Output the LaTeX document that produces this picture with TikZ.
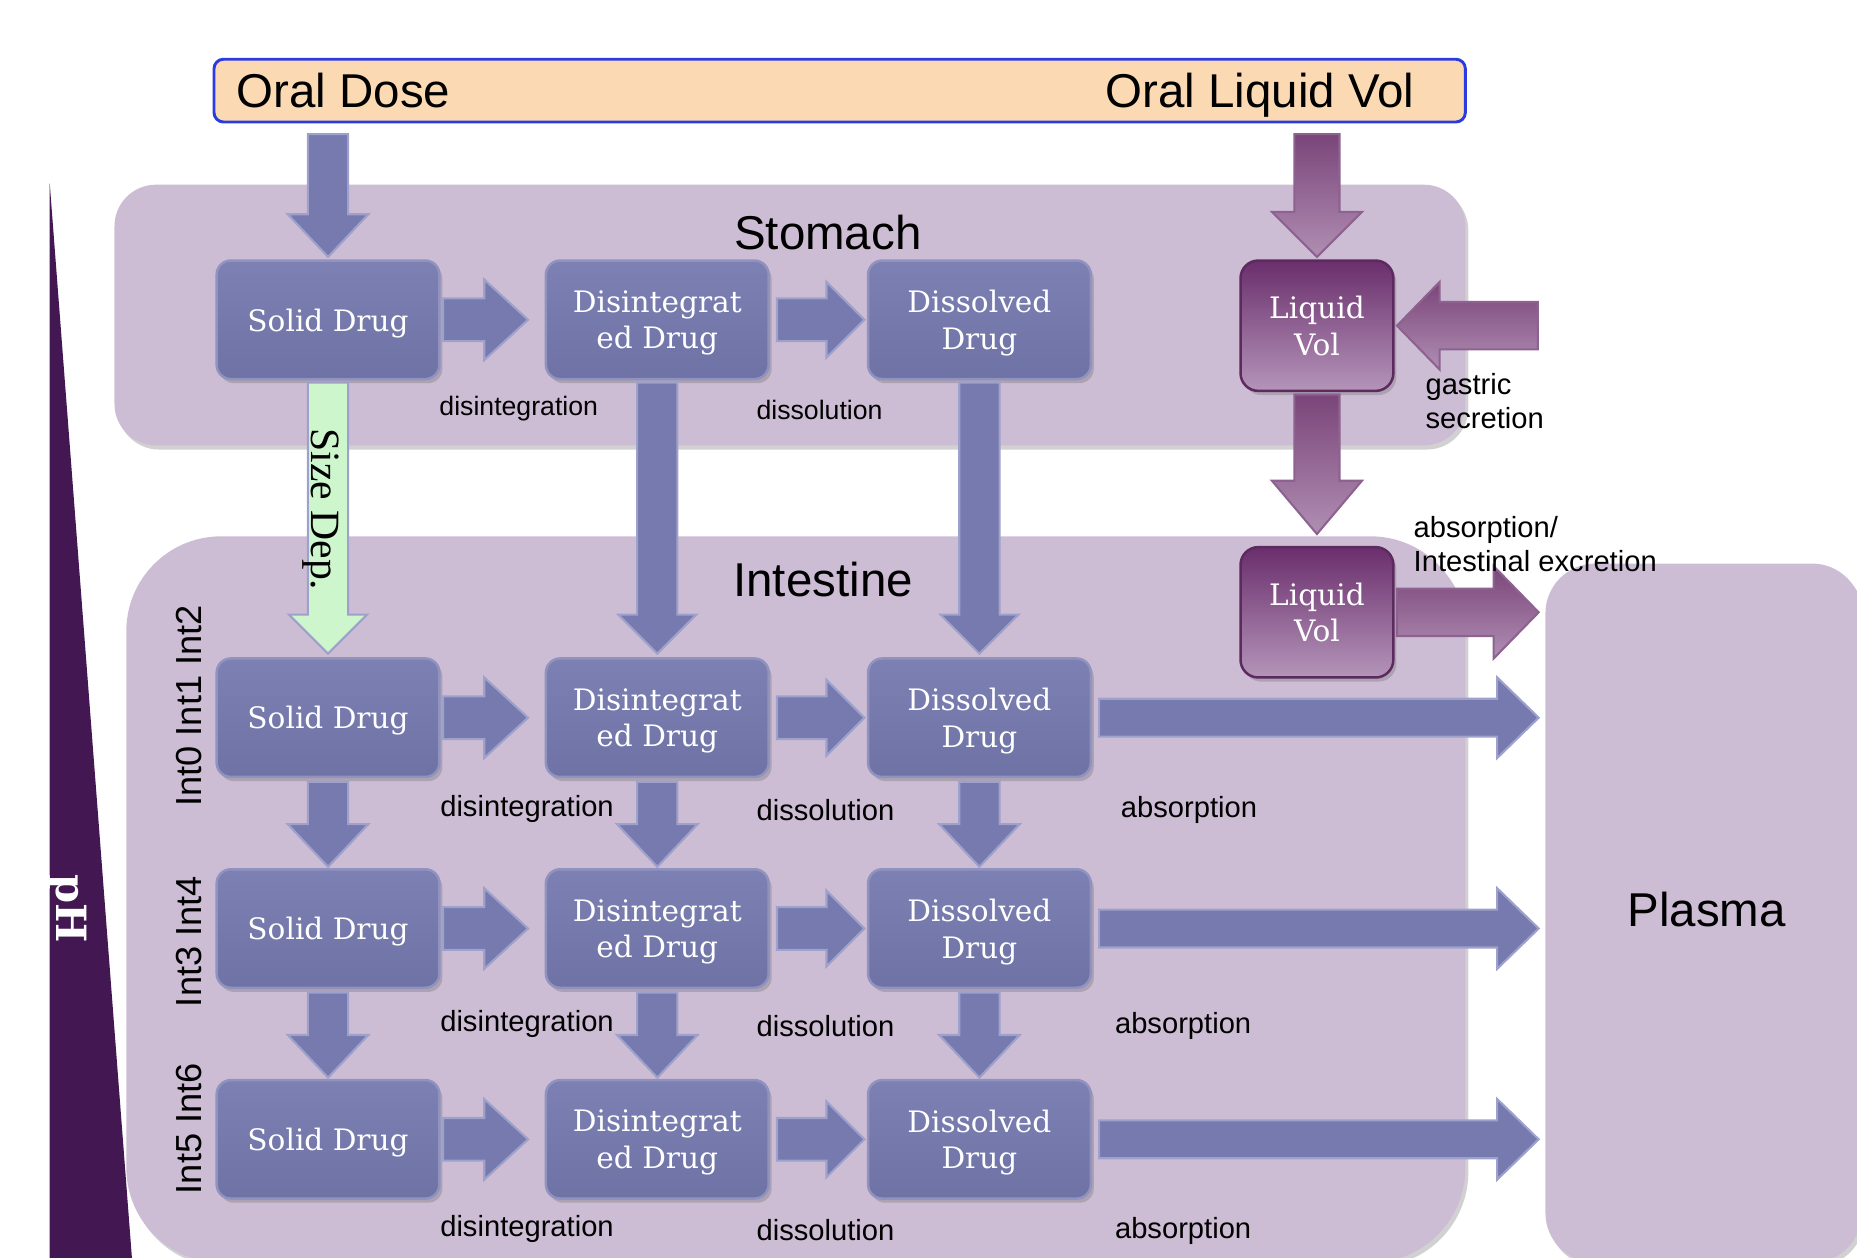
\documentclass[tikz,border=0pt]{standalone}
\usepackage{fontspec}
\setmainfont{Liberation Sans}
\newfontfamily\boxfont{DejaVu Serif}
\newfontfamily\sdfont{Liberation Serif}
\usetikzlibrary{calc,shadows}
\definecolor{panelc}{HTML}{CDBDD4}
\definecolor{boxtop}{HTML}{7C80B2}
\definecolor{boxbot}{HTML}{6E72A4}
\definecolor{boxedge}{HTML}{9093C0}
\definecolor{arrfill}{HTML}{767AAE}
\definecolor{arredge}{HTML}{9EA1CB}
\definecolor{liqtop}{HTML}{6A2E6C}
\definecolor{liqbot}{HTML}{B495B9}
\definecolor{liqedge}{HTML}{5C2A5E}
\definecolor{magtop}{HTML}{7A4579}
\definecolor{magbot}{HTML}{B08EB3}
\definecolor{magedge}{HTML}{8E6290}
\definecolor{greenf}{HTML}{CDF6CC}
\definecolor{oralf}{HTML}{FBD9B3}
\definecolor{orale}{HTML}{2B3BE0}
\definecolor{phc}{HTML}{431752}
\newcommand\blockarr[6]{%
  \coordinate (ba-s) at #2;
  \coordinate (ba-e) at #3;
  \coordinate (ba-h) at ($(ba-e)!#6!(ba-s)$);
  \path[#1] ($(ba-s)!#4!90:(ba-e)$) -- ($(ba-h)!#4!90:(ba-e)$) -- ($(ba-h)!#5!90:(ba-e)$) -- (ba-e) -- ($(ba-h)!#5!-90:(ba-e)$) -- ($(ba-h)!#4!-90:(ba-e)$) -- ($(ba-s)!#4!-90:(ba-e)$) -- cycle;}
\begin{document}
\begin{tikzpicture}[x=0.01cm,y=-0.01cm,
  softshadow/.style={drop shadow={shadow xshift=0.025cm, shadow yshift=-0.035cm, opacity=0.3, fill=black!60}},
  drugbox/.style={rectangle, rounded corners=0.12cm, minimum width=1.88cm, minimum height=1.0cm, inner sep=0pt,
    top color=boxtop, bottom color=boxbot, draw=boxedge, line width=0.6pt, text=white, text depth=-1.2pt,
    font=\boxfont\fontsize{7.1}{8.8}\selectfont, align=center, softshadow},
  liqbox/.style={drugbox, rounded corners=0.15cm, minimum width=1.29cm, minimum height=1.10cm,
    top color=liqtop, bottom color=liqbot, draw=liqedge, text depth=-0.6pt},
  panel/.style={rectangle, fill=panelc, draw=none, inner sep=0pt, softshadow},
  title/.style={inner sep=0pt, font=\fontsize{11.4}{13}\selectfont},
  lbl/.style={inner sep=0pt, font=\fontsize{7}{8.3}\selectfont},
  lblS/.style={inner sep=0pt, font=\fontsize{6.4}{7.6}\selectfont},
  intlbl/.style={inner sep=0pt, rotate=90, font=\fontsize{8.7}{10}\selectfont},
  blueArr/.style={fill=arrfill, draw=arredge, line width=0.5pt},
  magArr/.style={top color=magtop, bottom color=magbot, draw=magedge, line width=0.5pt},
  greenArr/.style={fill=greenf, draw=arredge, line width=0.5pt}]
\useasboundingbox (0,0) rectangle (1568,1062);
\clip (0,0) rectangle (1568,1062);

% pH wedge
\fill[phc] (42,155) -- (112,1070) -- (42,1070) -- cycle;
\node[rotate=-90, text=white, inner sep=0pt, font=\boxfont\bfseries\fontsize{10}{12}\selectfont] (ph) at (57,767) {pH};

% oral bar
\node[rectangle, rounded corners=0.08cm, minimum width=10.56cm, minimum height=0.53cm, fill=oralf, draw=orale, line width=0.7pt] (oral) at (709,76.5) {};
\node[title, anchor=base west] (odose) at (199,91) {Oral Dose};
\node[title, anchor=base east] (oliq) at (1195,91) {Oral Liquid Vol};

% panels
\node[panel, rounded corners=0.35cm, minimum width=11.40cm, minimum height=2.20cm] (stom) at (667,266) {};
\node[panel, rounded corners=0.8cm, minimum width=11.30cm, minimum height=6.13cm] (intes) at (672,759.5) {};
\node[panel, rounded corners=0.42cm, minimum width=2.67cm, minimum height=5.90cm] (plas) at (1438.5,771) {};
\node[title] (plasT) at (1441,768) {Plasma};
\node[title] (stT) at (699,196) {Stomach};
\node[title] (inT) at (695,489) {Intestine};

% boxes
\node[drugbox] (sd0) at (277,270) {Solid Drug};
\node[drugbox] (dd0) at (555,270) {Disintegrat\\ed Drug};
\node[drugbox] (dv0) at (827,270) {Dissolved\\Drug};
\node[liqbox] (lv0) at (1112,275) {Liquid\\Vol};
\node[liqbox] (lv1) at (1112,517) {Liquid\\Vol};
\foreach \i/\y in {1/606,2/784,3/962}{
  \node[drugbox] (sd\i) at (277,\y) {Solid Drug};
  \node[drugbox] (dd\i) at (555,\y) {Disintegrat\\ed Drug};
  \node[drugbox] (dv\i) at (827,\y) {Dissolved\\Drug};
}

% arrows in stomach
\blockarr{blueArr}{($(oral.south -| sd0.north)+(0,9)$)}{($(sd0.north)+(0,-2)$)}{0.17cm}{0.34cm}{0.36cm}
\blockarr{magArr}{($(oral.south -| lv0.north)+(0,9)$)}{($(lv0.north)+(0,-2)$)}{0.19cm}{0.38cm}{0.38cm}
\coordinate (gsrc) at ($(lv0.east)+(121,0)$);
\blockarr{magArr}{(gsrc)}{($(lv0.east)+(2,0)$)}{0.20cm}{0.37cm}{0.36cm}
\blockarr{magArr}{($(lv0.south)+(0,2)$)}{($(lv1.north)+(0,-10)$)}{0.19cm}{0.38cm}{0.45cm}
\blockarr{magArr}{($(lv1.east)+(2,0)$)}{($(lv1.east -| plas.west)+(-5,0)$)}{0.20cm}{0.39cm}{0.38cm}
\foreach \i in {0,1,2,3}{
  \blockarr{blueArr}{($(sd\i.east)+(2,0)$)}{($(dd\i.west)+(-14,0)$)}{0.18cm}{0.34cm}{0.37cm}
  \blockarr{blueArr}{($(dd\i.east)+(6,0)$)}{($(dv\i.west)+(-2,0)$)}{0.18cm}{0.32cm}{0.32cm}
}
\foreach \i in {1,2,3}{
  \blockarr{blueArr}{($(dv\i.east)+(6,0)$)}{($(dv\i.east -| plas.west)+(-5,0)$)}{0.16cm}{0.34cm}{0.35cm}
}
% stomach -> intestine
\blockarr{greenArr}{($(sd0.south)+(0,2)$)}{($(sd1.north)+(0,-3)$)}{0.17cm}{0.33cm}{0.33cm}
\blockarr{blueArr}{($(dd0.south)+(0,2)$)}{($(dd1.north)+(0,-3)$)}{0.17cm}{0.33cm}{0.33cm}
\blockarr{blueArr}{($(dv0.south)+(0,2)$)}{($(dv1.north)+(0,-3)$)}{0.17cm}{0.33cm}{0.33cm}
% row to row
\foreach \i/\j in {1/2,2/3}{
  \blockarr{blueArr}{($(sd\i.south)+(0,3)$)}{($(sd\j.north)+(0,-1)$)}{0.17cm}{0.34cm}{0.36cm}
  \blockarr{blueArr}{($(dd\i.south)+(0,3)$)}{($(dd\j.north)+(0,-1)$)}{0.17cm}{0.34cm}{0.36cm}
  \blockarr{blueArr}{($(dv\i.south)+(0,3)$)}{($(dv\j.north)+(0,-1)$)}{0.17cm}{0.34cm}{0.36cm}
}
\node[rotate=-90, inner sep=0pt, font=\sdfont\fontsize{10}{12}\selectfont] (sdep) at (271,430) {Size Dep.};

% labels
\node[lblS] (ldi0) at (438,345) {disintegration};
\node[lblS] (lds0) at (692,346) {dissolution};
\node[lbl, anchor=west, align=left] (lgs) at (1203,338.5) {gastric\\secretion};
\node[lbl, anchor=west, align=left] (lab) at (1193,459.5) {absorption/\\Intestinal excretion};
\foreach \i/\y/\ax in {1/683/1004,2/865/999,3/1038/999}{
  \node[lbl] (ldi\i) at (445,\y) {disintegration};
  \node[lbl] (lds\i) at (697,\y+1) {dissolution};
  \node[lbl] (lab\i) at (\ax,\y+1) {absorption};
}
\node[intlbl] (il1) at (160,596) {Int0 Int1 Int2};
\node[intlbl] (il2) at (160,795) {Int3 Int4};
\node[intlbl] (il3) at (160,953) {Int5 Int6};
\end{tikzpicture}
\end{document}
